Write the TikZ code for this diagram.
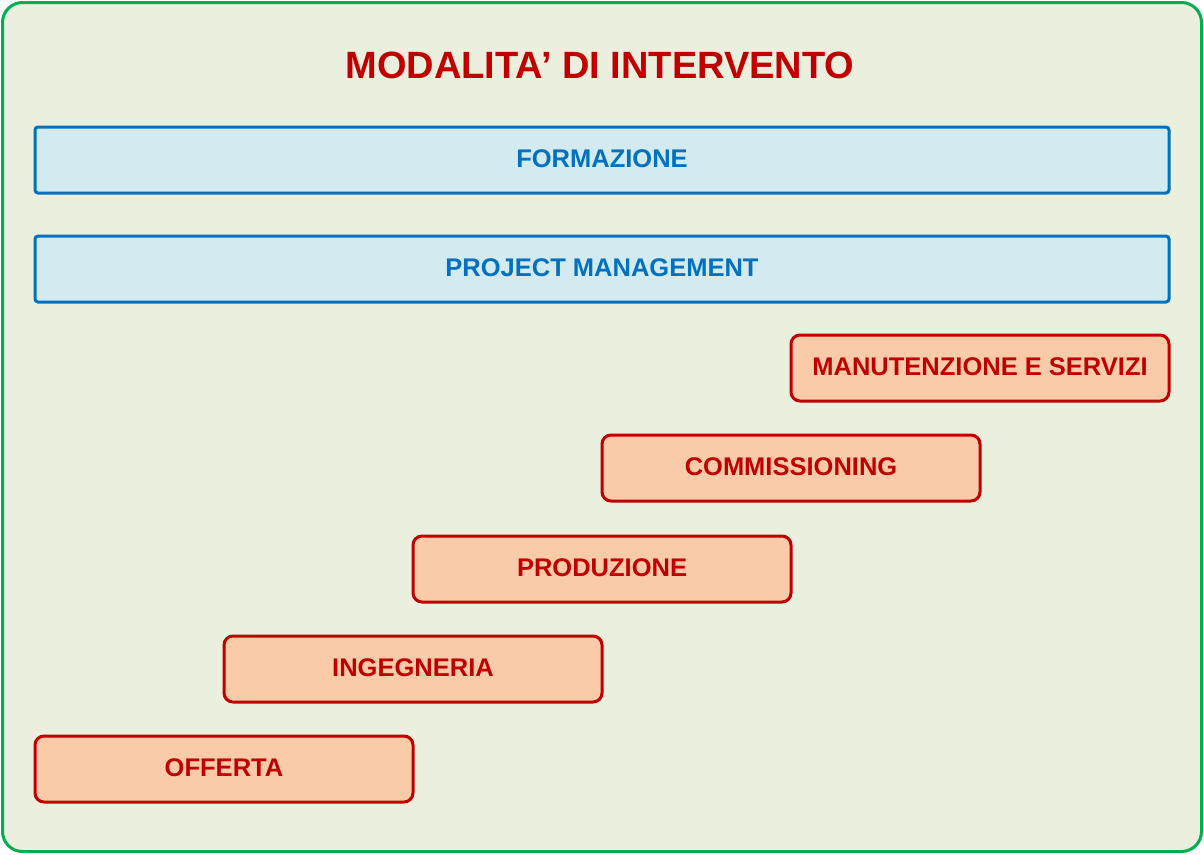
\documentclass[tikz,border=0pt]{standalone}
\usepackage{fontspec}
\setmainfont{Liberation Sans}
\definecolor{bgc}{HTML}{EBEFDE}
\definecolor{frameg}{HTML}{00B050}
\definecolor{bluef}{HTML}{D2EAF0}
\definecolor{bluel}{HTML}{0070C0}
\definecolor{oranf}{HTML}{FACBA8}
\definecolor{redl}{HTML}{C00000}
\begin{document}
\begin{tikzpicture}[x=1pt,y=-1pt,
  bluebox/.style={draw=bluel,fill=bluef,line width=3pt,rounded corners=3pt},
  redbox/.style={draw=redl,fill=oranf,line width=3pt,rounded corners=9pt},
  bluetxt/.style={text=bluel,font=\fontsize{25.5}{28}\selectfont\bfseries},
  redtxt/.style={text=redl,font=\fontsize{25.5}{28}\selectfont\bfseries}]
\useasboundingbox (0,0) rectangle (1204,854);
\draw[draw=frameg,fill=bgc,line width=3pt,rounded corners=20pt] (2.5,2.5) rectangle (1201.5,851.5);
\node[text=redl,font=\fontsize{38}{40}\selectfont\bfseries] (title) at (600,65) {MODALITA’ DI INTERVENTO};
\draw[bluebox] (35,127) rectangle (1169,193);
\node[bluetxt] (form) at (602,159) {FORMAZIONE};
\draw[bluebox] (35,236) rectangle (1169,302);
\node[bluetxt] (pm) at (602,268) {PROJECT MANAGEMENT};
\draw[redbox] (791,335) rectangle (1169,401);
\node[redtxt] (man) at (980,367) {MANUTENZIONE E SERVIZI};
\draw[redbox] (602,435) rectangle (980,501);
\node[redtxt] (comm) at (791,467) {COMMISSIONING};
\draw[redbox] (413,536) rectangle (791,602);
\node[redtxt] (prod) at (602,568) {PRODUZIONE};
\draw[redbox] (224,636) rectangle (602,702);
\node[redtxt] (ing) at (413,668) {INGEGNERIA};
\draw[redbox] (35,736) rectangle (413,802);
\node[redtxt] (off) at (224,768) {OFFERTA};
\end{tikzpicture}
\end{document}
